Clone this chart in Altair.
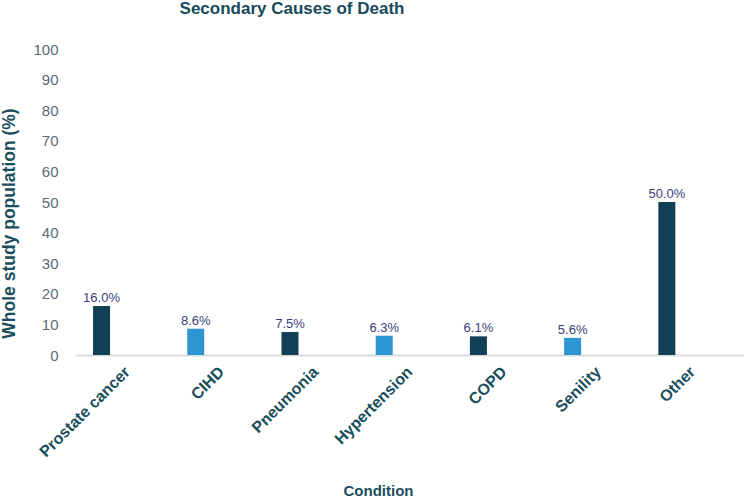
import altair as alt
import pandas as pd

categories = ["Prostate cancer", "CIHD", "Pneumonia", "Hypertension", "COPD", "Senility", "Other"]
values = [16.0, 8.6, 7.5, 6.3, 6.1, 5.6, 50.0]
shade = ["dark", "light", "dark", "light", "dark", "light", "dark"]
y_ticks = [0, 10, 20, 30, 40, 50, 60, 70, 80, 90, 100]

df = pd.DataFrame({"Condition": categories, "value": values, "shade": shade})
df["label"] = [f"{v:.1f}%" for v in values]

FONT = "Liberation Sans, Arial, sans-serif"
OFF = -25.8

x = alt.X("Condition:N", sort=categories,
          scale=alt.Scale(paddingInner=0, paddingOuter=0.045),
          axis=alt.Axis(title="Condition", labelAngle=-45, labelAlign="right",
                        labelBaseline="middle", labelFont=FONT, labelFontSize=16,
                        labelFontWeight="bold", labelColor="#1a4e5b", labelPadding=14,
                        ticks=False, domainColor="#d9dcdd", domainWidth=2,
                        titleFont=FONT, titleFontSize=15, titleFontWeight="bold",
                        titleColor="#1a4e5b", titleX=302, titleY=143, titleBaseline="bottom"))

y = alt.Y("value:Q", scale=alt.Scale(domain=[0, 100], nice=False),
          axis=alt.Axis(title="Whole study population (%)", values=y_ticks, tickCount=11,
                        grid=False, domain=False, ticks=False, labelPadding=18,
                        labelOverlap=False,
                        labelFont=FONT, labelFontSize=15, labelColor="#5b6b73",
                        titleFont=FONT, titleFontSize=17.5, titleFontWeight="bold",
                        titleColor="#1a4e5b", titleX=-58, titleY=174,
                        titleAlign="center", titleBaseline="bottom"))

bars = alt.Chart(df).mark_bar(width=17, xOffset=OFF).encode(
    x=x, y=y,
    color=alt.Color("shade:N", scale=alt.Scale(domain=["dark", "light"], range=["#113f56", "#2e95d3"]), legend=None),
)

labels = alt.Chart(df).mark_text(xOffset=OFF, dy=-8, font=FONT, fontSize=13, color="#3a3d7a").encode(
    x=x, y=y, text="label:N")

chart = (bars + labels).properties(
    width=668, height=306,
    title=alt.TitleParams("Secondary Causes of Death", font=FONT, fontSize=17, fontWeight="bold",
                          color="#174a5a", anchor="middle", dx=-118, offset=24),
    autosize=alt.AutoSizeParams(type="none"),
    padding={"left": 76, "top": 49, "right": 0, "bottom": 143},
).configure_view(stroke=None)

chart.save("out.html", embed_options={"renderer": "svg", "actions": False})
